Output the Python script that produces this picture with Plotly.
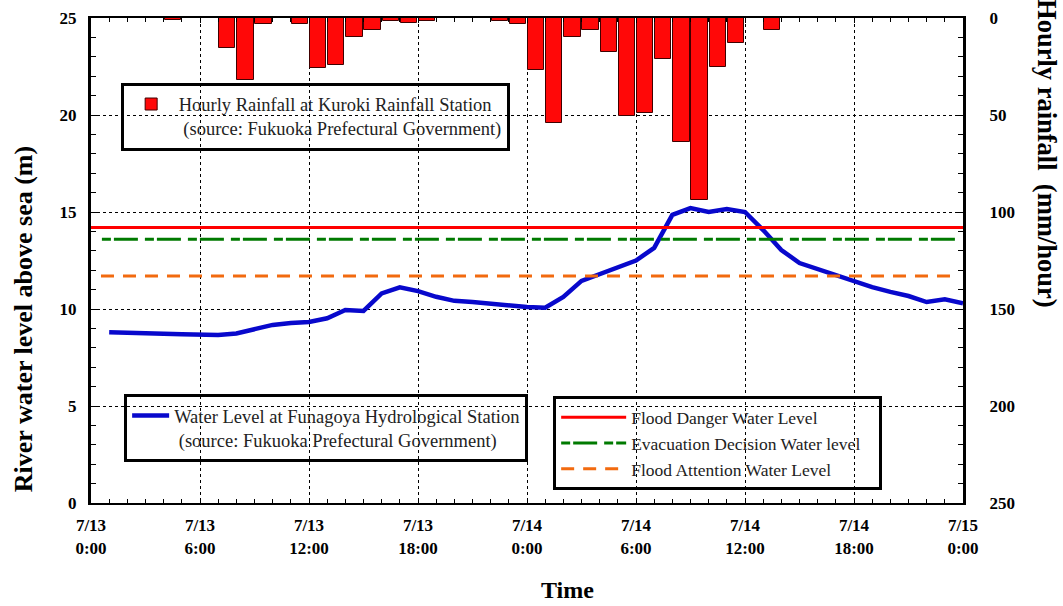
import plotly.graph_objects as go

# ---------------- data ----------------
# hourly rainfall (mm/hour); hour index = start of the hour since 7/13 0:00
rain_hours = [4, 7, 8, 9, 11, 12, 13, 14, 15, 16, 17, 18, 22, 23, 24, 25, 26,
              27, 28, 29, 30, 31, 32, 33, 34, 35, 37]
rain_mm = [1, 15.5, 32, 3, 3, 26, 24, 10, 6, 1.5, 2.5, 1.5, 1.5, 3, 27, 54, 10,
           6, 17.5, 50.5, 49, 21, 64, 94, 25, 13, 6]

# water level (m) at Funagoya, hourly
level_hours = list(range(1, 49))
level_m = [8.80, 8.76, 8.73, 8.72, 8.70, 8.67, 8.66, 8.74, 8.96, 9.18,
           9.28, 9.33, 9.52, 9.95, 9.90, 10.80, 11.12, 10.92, 10.63, 10.42,
           10.36, 10.27, 10.15, 10.10, 10.07, 10.62, 11.45, 11.80, 12.15, 12.50,
           13.15, 14.85, 15.20, 15.00, 15.15, 15.00, 14.07, 13.04, 12.37, 12.06,
           11.70, 11.45, 11.13, 10.88, 10.67, 10.36, 10.50, 10.30]

# reference water levels (m)
flood_danger = 14.2
evacuation_decision = 13.6
flood_attention = 11.7

x_tickvals = [0, 6, 12, 18, 24, 30, 36, 42, 48]
x_ticktext = ["7/13<br>0:00", "7/13<br>6:00", "7/13<br>12:00", "7/13<br>18:00",
              "7/14<br>0:00", "7/14<br>6:00", "7/14<br>12:00", "7/14<br>18:00",
              "7/15<br>0:00"]

SERIF = "Liberation Serif"

fig = go.Figure()

# water level line
fig.add_trace(go.Scatter(
    x=level_hours, y=level_m, mode="lines",
    line=dict(color="#0808cc", width=4.5),
    name="Water Level at Funagoya Hydrological Station<br>&nbsp;(source: Fukuoka Prefectural Government)",
    legend="legend2",
))

# reference level lines
fig.add_trace(go.Scatter(
    x=[0, 48], y=[flood_danger] * 2, mode="lines",
    line=dict(color="#ff0000", width=3),
    name="Flood Danger Water Level", legend="legend3",
))
fig.add_trace(go.Scatter(
    x=[0.6, 47.8], y=[evacuation_decision] * 2, mode="lines",
    line=dict(color="#007a00", width=3, dash="9px,3px,24px,7px"),
    name="Evacuation Decision Water level&nbsp;&nbsp;&nbsp;", legend="legend3",
))
fig.add_trace(go.Scatter(
    x=[0.55, 47.7], y=[flood_attention] * 2, mode="lines",
    line=dict(color="#f26a0f", width=3, dash="13px,9px"),
    name="Flood Attention Water Level", legend="legend3",
))

# rainfall bars (hanging from top on reversed right axis)
fig.add_trace(go.Bar(
    x=[h + 0.5 for h in rain_hours], y=rain_mm, width=0.9,
    marker=dict(color="#ff0808", line=dict(color="#400000", width=1)),
    yaxis="y2",
    name="Hourly Rainfall at Kuroki Rainfall Station&nbsp;<br>&nbsp;(source: Fukuoka Prefectural Government)",
    legend="legend",
))

def legend_style(x, y, size, itemwidth):
    return dict(
        x=x, y=y, xanchor="left", yanchor="top",
        bgcolor="rgba(0,0,0,0)", bordercolor="black", borderwidth=3,
        font=dict(family=SERIF, size=size, color="#222"),
        itemwidth=itemwidth, valign="top",
    )

tickfont = dict(family=SERIF, size=17, color="black", weight="bold")

fig.update_layout(
    width=1063, height=606,
    margin=dict(l=91, r=100, t=18, b=103),
    plot_bgcolor="white", paper_bgcolor="white",
    showlegend=True,
    legend=legend_style(0.034, 0.867, 18.5, 45),
    legend2=legend_style(0.038, 0.2248, 18.5, 37),
    legend3=legend_style(0.53, 0.2200, 17.5, 65),
    xaxis=dict(
        range=[0, 48], tickvals=x_tickvals, ticktext=x_ticktext,
        tickfont=tickfont, ticks="inside", ticklen=5, tickcolor="black",
        showgrid=True, gridcolor="black", griddash="dot", gridwidth=1,
        showline=True, linecolor="black", linewidth=2, mirror="ticks",
        minor=dict(dtick=1, ticks="inside", ticklen=4, tickcolor="black", showgrid=False),
        zeroline=False, ticklabelstandoff=6, automargin=False,
    ),
    yaxis=dict(
        range=[0, 25], dtick=5, tickfont=tickfont,
        ticks="inside", ticklen=6, tickcolor="black",
        showgrid=True, gridcolor="black", griddash="dot", gridwidth=1,
        showline=True, linecolor="black", linewidth=3,
        minor=dict(dtick=1, ticks="inside", ticklen=5, tickcolor="black", showgrid=False),
        zeroline=False, ticklabelstandoff=8, automargin=False,
    ),
    yaxis2=dict(
        range=[250, 0], dtick=50, overlaying="y", side="right", tickfont=tickfont,
        ticks="inside", ticklen=6, tickcolor="black",
        showgrid=False, showline=True, linecolor="black", linewidth=3,
        minor=dict(dtick=10, ticks="inside", ticklen=5, tickcolor="black"),
        zeroline=False, ticklabelstandoff=20, automargin=False,
    ),
    bargap=0,
)

title_font = dict(family=SERIF, color="black", weight="bold")
fig.add_annotation(text="River water level above sea (m)", xref="paper", yref="paper",
                   x=-0.078, y=0.379, xanchor="center", yanchor="middle",
                   textangle=-90, showarrow=False, font=dict(size=26, **title_font))
fig.add_annotation(text="Hourly rainfall&nbsp;&nbsp;(mm/hour)", xref="paper", yref="paper",
                   x=1.0963, y=0.7216, xanchor="center", yanchor="middle",
                   textangle=90, showarrow=False, font=dict(size=26.5, **title_font))
fig.add_annotation(text="Time", xref="paper", yref="paper",
                   x=0.546, y=-0.179, xanchor="center", yanchor="middle",
                   showarrow=False, font=dict(size=24, **title_font))

fig.write_html(
    "out.html",
    config={"displayModeBar": False},
    post_script="document.body.style.margin='0';document.body.style.overflow='hidden';",
)
